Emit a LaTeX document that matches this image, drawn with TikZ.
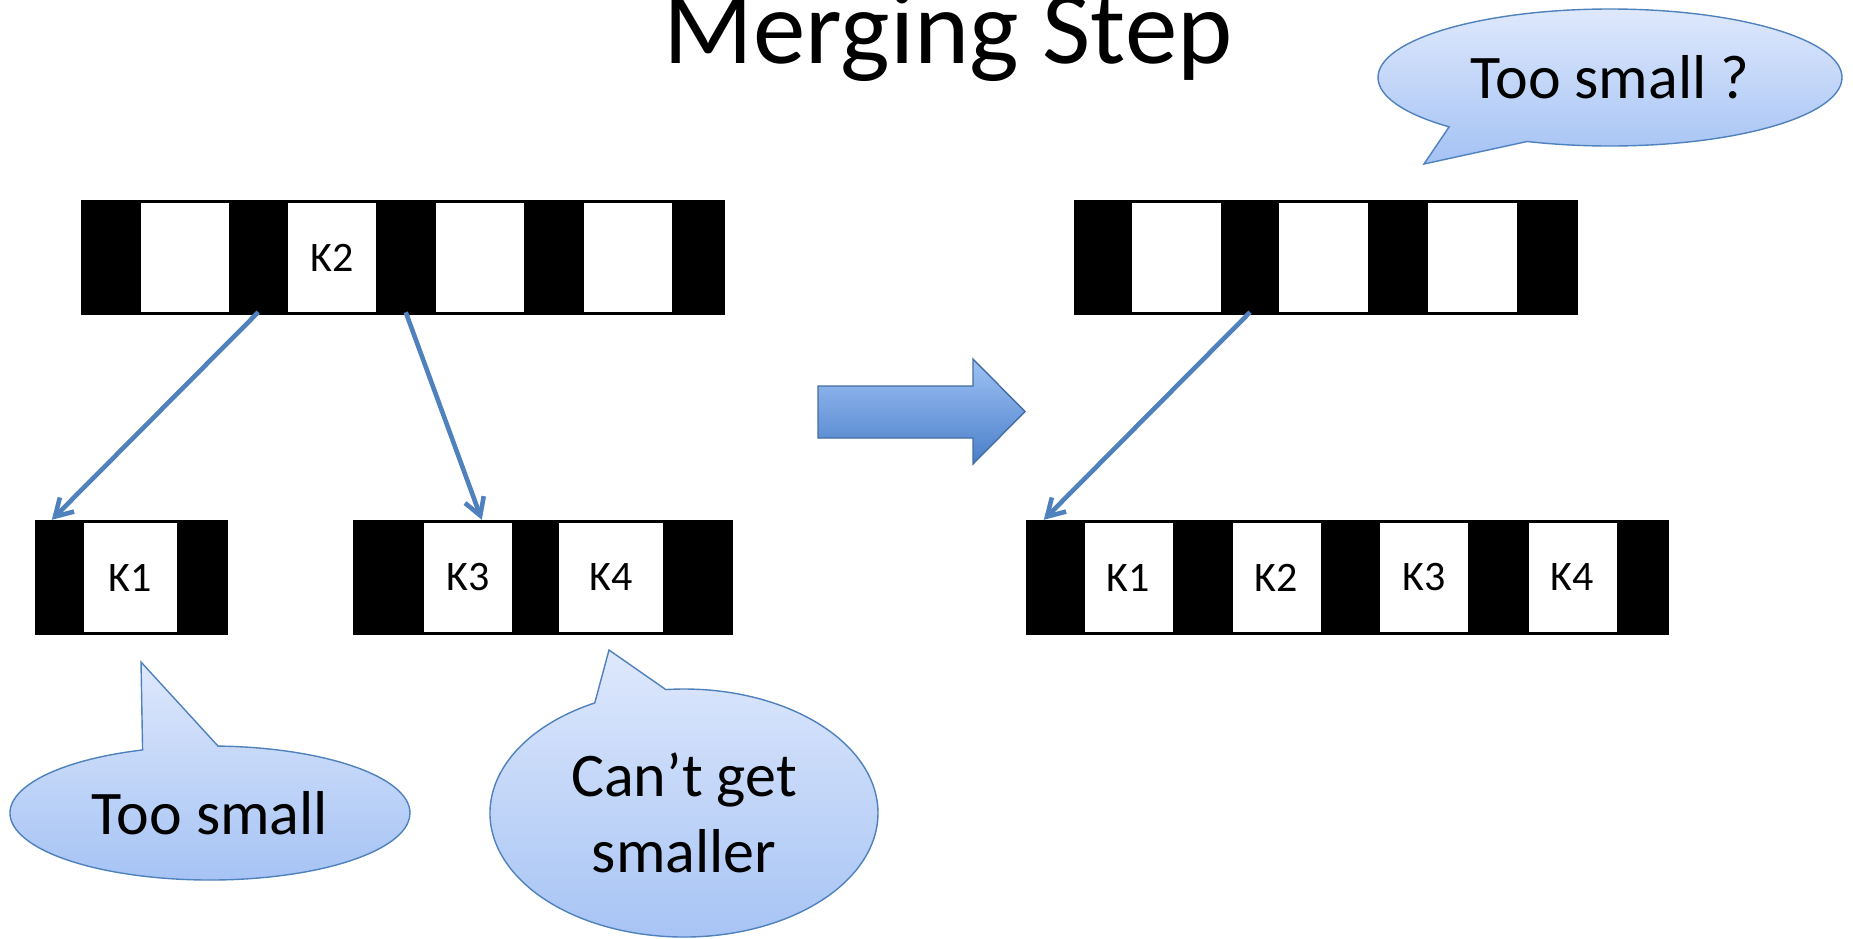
\documentclass[tikz,border=0pt]{standalone}
\usepackage{fontspec}
\setmainfont{Carlito}
\usetikzlibrary{arrows.meta,shapes.callouts,calc}

\definecolor{linkblue}{RGB}{79,129,189}
\definecolor{bubbletop}{RGB}{222,232,252}
\definecolor{bubblebot}{RGB}{164,194,244}
\definecolor{arrowtop}{RGB}{158,194,245}
\definecolor{arrowbot}{RGB}{74,126,201}

\begin{document}
\begin{tikzpicture}[x=1pt,y=1pt]
  \tikzstyle{every node}+=[inner sep=0pt]
  \tikzstyle{bar}=[fill=black, minimum height=115pt]
  \tikzstyle{slot}=[fill=white, minimum width=88pt, minimum height=109pt, font=\fontsize{42}{42}\selectfont]
  \tikzstyle{link}=[draw=linkblue, line width=4.6pt, -{Straight Barb[length=17pt,width=20pt]}]
  \tikzstyle{bubble}=[ellipse callout, draw=linkblue, line width=1.4pt, top color=bubbletop, bottom color=bubblebot, font=\fontsize{62}{75.5}\selectfont, align=center]
  \useasboundingbox (0,0) rectangle (1853,-938);
  \node [anchor=base, font=\fontsize{105}{105}\selectfont] (title) at (948,-63) {Merging Step};
  \node [bar, minimum width=644pt] (L) at (403,-257.5) {};
  \foreach \x/\k [count=\i] in {184.5/,332/K2,479.5/,628/}
    \node [slot] (l\i) at (\x,-257.5) {\k};
  \node [bar, minimum width=193pt] (K) at (131.5,-577.5) {};
  \node [slot, minimum width=93pt] (k1) at (130.5,-577.5) {K1};
  \node [bar, minimum width=380pt] (M) at (543,-577.5) {};
  \node [slot] (k3) at (468,-577.5) {K3};
  \node [slot, minimum width=104pt] (k4) at (611,-577.5) {K4};
  \draw [link] ($(l1.south east)!.5!(l2.south west)$) -- ([xshift=17pt]K.north west);
  \draw [link] ($(l2.south east)!.5!(l3.south west)$) -- ([xshift=129pt]M.north west);
  \draw [draw=linkblue!85!black, line width=1.4pt, top color=arrowtop, bottom color=arrowbot]
    (818,-386) -- (973,-386) -- (973,-359) -- (1025,-411.5) -- (973,-464) -- (973,-438) -- (818,-438) -- cycle;
  \node [bar, minimum width=504pt] (R) at (1326,-257.5) {};
  \foreach \x [count=\i] in {1176.5,1323.5,1472}
    \node [slot, minimum width=89pt] (r\i) at (\x,-257.5) {};
  \node [bar, minimum width=643pt] (N) at (1347.5,-577.5) {};
  \foreach \x/\k [count=\i] in {1128.5/K1,1276.5/K2,1424/K3,1572.5/K4}
    \node [slot] (n\i) at (\x,-577.5) {\k};
  \draw [link] ($(r1.south east)!.5!(r2.south west)$) -- ([xshift=18pt]N.north west);
  \node [bubble, minimum width=400pt, minimum height=134pt, callout absolute pointer={(141,-662)}, callout pointer arc=22] (small) at (210,-813) {Too small};
  \node [bubble, minimum width=388pt, minimum height=248pt, callout absolute pointer={(609,-650)}, callout pointer arc=22] (cant) at (684,-813) {Can’t get\\smaller};
  \node [bubble, minimum width=464pt, minimum height=137pt, callout absolute pointer={(1424,-164)}, callout pointer arc=23] (what) at (1610,-77.5) {Too small ?};
\end{tikzpicture}
\end{document}
